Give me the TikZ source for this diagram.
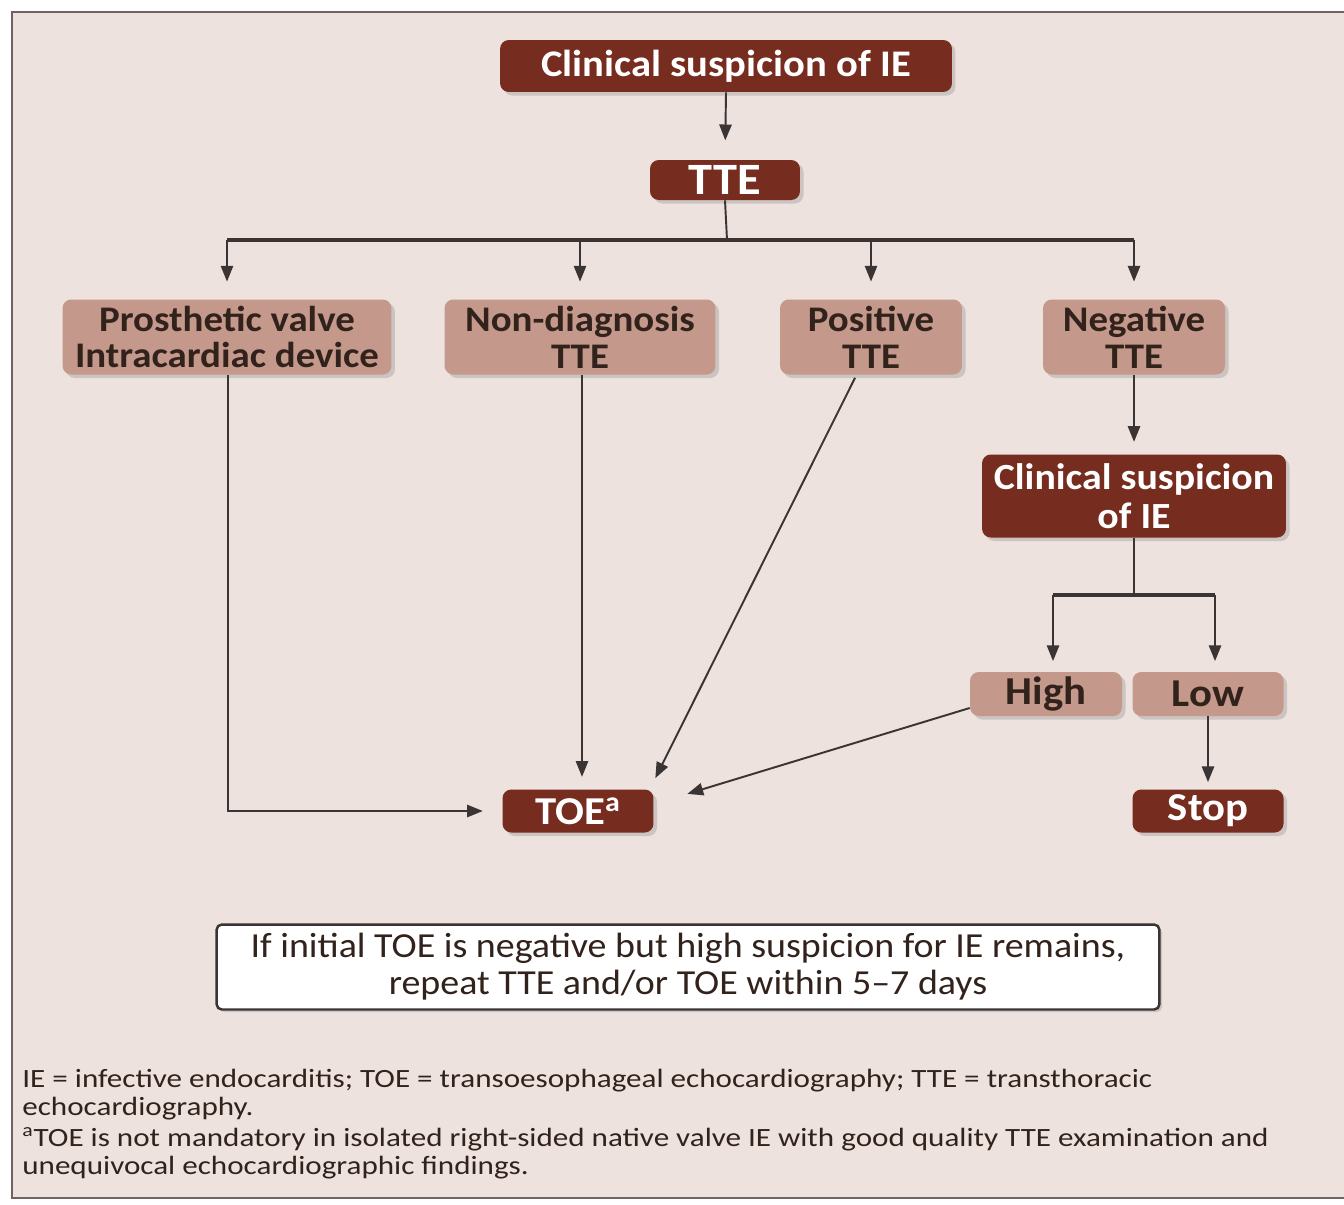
\documentclass[tikz,border=0pt]{standalone}
\usepackage{fontspec}
\setmainfont[FakeStretch=1.08]{Carlito}
\newfontfamily\footfont[FakeStretch=1.18]{Carlito}
\usetikzlibrary{arrows.meta,shadows,calc}
\definecolor{bg}{RGB}{237,226,222}
\definecolor{dark}{RGB}{118,44,30}
\definecolor{light}{RGB}{196,152,138}
\definecolor{ink}{RGB}{50,34,28}
\definecolor{lnc}{RGB}{58,52,52}
\definecolor{frame}{RGB}{110,100,100}
\begin{document}
\begin{tikzpicture}[x=0.02cm,y=-0.02cm,
  shad/.style={drop shadow={shadow xshift=2pt,shadow yshift=-2pt,opacity=0.3}},
  dbox/.style={fill=dark,text=white,font=\bfseries\fontsize{21.4}{19}\selectfont,rounded corners=5pt,inner sep=0pt,align=center,shad},
  lbox/.style={fill=light,text=ink,font=\bfseries\fontsize{20.5}{21}\selectfont,rounded corners=5pt,inner sep=0pt,align=center,shad},
  sbox/.style={font=\bfseries\fontsize{22.5}{19}\selectfont},
  arr/.style={draw=lnc,line width=1.1pt,-{Triangle[length=9pt,width=7pt]}},
  ln/.style={draw=lnc,line width=1.1pt},
  foot/.style={anchor=base west,inner sep=0pt,text=ink,font=\footfont\fontsize{15}{14}\selectfont},
]
\useasboundingbox (0,0) rectangle (1344,1204);
\fill[white] (0,0) rectangle (1344,1204);
\fill[bg] (12,12) rectangle (1344,1198);
\draw[frame,line width=1.6pt] (1344,12) -- (12,12) -- (12,1198) -- (1344,1198);

% nodes
\node[dbox,minimum width=9.04cm,minimum height=1.04cm] (top) at (726,66) {Clinical suspicion of IE};
\node[dbox,minimum width=3.0cm,minimum height=0.8cm,font=\bfseries\fontsize{25.5}{20}\selectfont] (tte) at (725,180) {TTE};
\node[lbox,minimum width=6.58cm,minimum height=1.5cm] (prost) at (227,337) {Prosthetic valve\\Intracardiac device};
\node[lbox,minimum width=5.42cm,minimum height=1.5cm] (nondiag) at (580,337) {Non-diagnosis\\TTE};
\node[lbox,minimum width=3.64cm,minimum height=1.5cm] (pos) at (871,337) {Positive\\TTE};
\node[lbox,minimum width=3.64cm,minimum height=1.5cm] (neg) at (1134,337) {Negative\\TTE};
\node[dbox,minimum width=6.08cm,minimum height=1.66cm,font=\bfseries\fontsize{21}{22}\selectfont] (cs2) at (1134,496) {Clinical suspicion\\of IE};
\node[lbox,sbox,minimum width=3.04cm,minimum height=0.88cm] (high) at (1046,694) {High};
\node[lbox,sbox,minimum width=3.02cm,minimum height=0.88cm] (low) at (1208,694) {Low};
\node[dbox,sbox,minimum width=3.02cm,minimum height=0.86cm] (stop) at (1208,811) {Stop};
\node[dbox,sbox,minimum width=3.02cm,minimum height=0.86cm] (toe) at (578,811) {TOE\textsuperscript{a}};
\node[draw=lnc,line width=1.4pt,fill=white,rounded corners=3pt,minimum width=18.86cm,minimum height=1.7cm,inner sep=0pt,align=center,text=ink,font=\fontsize{20}{21}\selectfont,drop shadow={shadow xshift=1.5pt,shadow yshift=-1.5pt,opacity=0.3}] (note) at (688,967) {If initial TOE is negative but high suspicion for IE remains,\\repeat TTE and/or TOE within 5--7 days};

% connectors
\coordinate (bus) at (727,240);
\coordinate (bus2) at (1134,595);
\draw[arr,shorten >=11pt] (top.south) -- (tte.north);
\draw[ln] (tte.south) -- (bus);
\draw[draw=lnc,line width=2pt] (prost.north |- bus) -- (neg.north |- bus);
\foreach \n in {prost,nondiag,pos,neg}
  \draw[arr,shorten >=10pt] (\n.north |- bus) -- (\n.north);
\draw[arr,shorten >=7pt] (neg.south) -- (cs2.north);
\draw[ln] (cs2.south) -- (bus2);
\draw[draw=lnc,line width=2pt] ($(high.north |- bus2)+(7,0)$) -- ($(low.north |- bus2)+(7,0)$);
\draw[arr,shorten >=6pt] ($(high.north |- bus2)+(7,0)$) -- ($(high.north)+(7,0)$);
\draw[arr,shorten >=6pt] ($(low.north |- bus2)+(7,0)$) -- ($(low.north)+(7,0)$);
\draw[arr,shorten >=4pt] (low.south) -- (stop.north);
\draw[arr,shorten >=11pt] ($(prost.south)+(1,0)$) |- (toe.west);
\draw[arr,shorten >=7pt] ($(nondiag.south)+(2,0)$) -- ($(toe.north)+(4,0)$);
\draw[arr,shorten >=7pt] ($(pos.south)+(-16,3)$) -- ($(toe.north east)+(-4,0)$);
\draw[arr,shorten >=14pt] ($(high.west)+(0,14)$) -- ($(toe.east)+(10,-10)$);

% footnotes
\node[foot] (f1) at (22,1087) {IE = infective endocarditis; TOE = transoesophageal echocardiography; TTE = transthoracic};
\node[foot] (f2) at (22,1115) {echocardiography.};
\node[foot] (f3) at (22,1146) {\textsuperscript{a}TOE is not mandatory in isolated right-sided native valve IE with good quality TTE examination and};
\node[foot] (f4) at (22,1174) {unequivocal echocardiographic findings.};
\end{tikzpicture}
\end{document}
